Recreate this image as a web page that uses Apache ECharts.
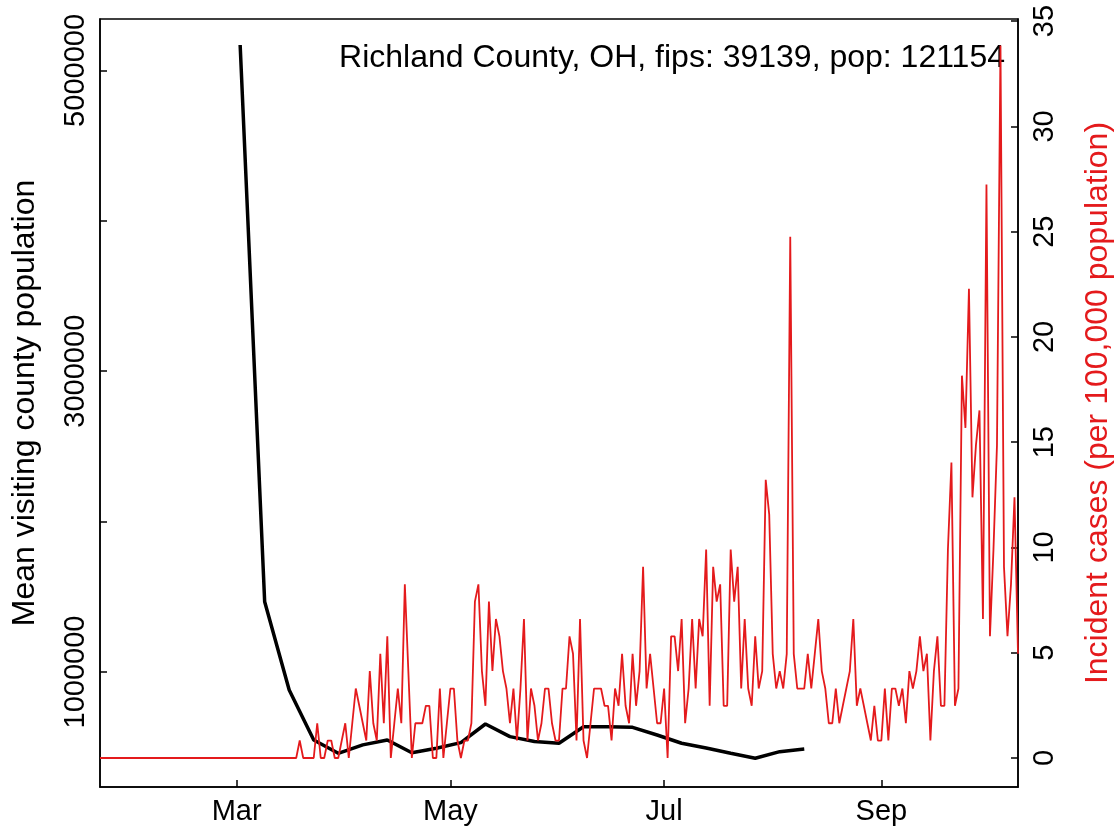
<!DOCTYPE html>
<html><head><meta charset="utf-8">
<script src="https://cdn.jsdelivr.net/npm/echarts@6/dist/echarts.min.js"></script>
<style>html,body{margin:0;padding:0;background:#fff}#c{width:1119px;height:830px}</style>
</head><body><div id="c"></div>
<script>
// ---------------- data ----------------
const annotation = 'Richland County, OH, fips: 39139, pop: 121154';
const leftAxisTitle = 'Mean visiting county population';
const rightAxisTitle = 'Incident cases (per 100,000 population)';

// daily incident cases per 100,000, starting 2020-01-22
const incidenceStart = '2020-01-22';
const incidence = [
  0,0,0,0,0,0,0,0,0,0, 0,0,0,0,0,0,0,0,0,0,
  0,0,0,0,0,0,0,0,0,0, 0,0,0,0,0,0,0,0,0,0,
  0,0,0,0,0,0,0,0,0,0, 0,0,0,0,0,0,0,
  0.83,0,0,0,0,1.65,0,0,0.83,0.83,
  0,0,0.83,1.65,0,1.65,3.30,2.48,1.65,0.83,
  4.13,1.65,0.83,4.95,1.65,5.78,0,1.65,3.30,1.65,
  8.25,4.13,0,1.65,1.65,1.65,2.48,2.48,0,0,
  3.30,0,1.65,3.30,3.30,0.83,0,0.83,0.83,1.65,
  7.43,8.25,4.13,2.48,7.43,4.13,6.60,5.78,4.13,3.30,
  1.65,3.30,0.83,3.30,6.60,0.83,3.30,2.48,0.83,1.65,
  3.30,3.30,1.65,0.83,0.83,3.30,3.30,5.78,4.95,0.83,
  6.60,0.83,0,1.65,3.30,3.30,3.30,2.48,2.48,0.83,
  3.30,2.48,4.95,2.48,1.65,4.95,2.48,4.13,9.08,3.30,
  4.95,3.30,1.65,1.65,3.30,0,5.78,5.78,4.13,6.60,
  1.65,3.30,6.60,3.30,6.60,5.78,
  9.90,2.48,9.08,7.43,8.25,2.48,2.48,9.90,7.43,9.08,
  3.30,6.60,3.30,2.48,5.78,3.30,4.13,13.21,11.56,4.95,
  3.30,4.13,3.30,4.95,24.76,4.95,3.30,3.30,3.30,4.95,
  3.30,4.95,6.60,4.13,3.30,1.65,1.65,3.30,1.65,2.48,
  3.30,4.13,6.60,2.48,3.30,2.48,1.65,0.83,2.48,0.83,
  0.83,3.30,0.83,3.30,3.30,2.48,3.30,1.65,4.13,3.30,
  4.13,5.78,4.13,4.95,0.83,4.13,5.78,2.48,2.48,9.90,
  14.03,2.48,3.30,18.16,15.68,22.29,12.38,14.86,16.51,6.60,
  27.24,5.78,9.90,14.86,33.84,9.08,5.78,8.25,12.38,4.95
];

// weekly mean visiting county population
const visitDates = [
  '2020-03-02','2020-03-09','2020-03-16','2020-03-23','2020-03-30','2020-04-06',
  '2020-04-13','2020-04-20','2020-04-27','2020-05-04','2020-05-11','2020-05-18',
  '2020-05-25','2020-06-01','2020-06-08','2020-06-15','2020-06-22','2020-06-29',
  '2020-07-06','2020-07-13','2020-07-20','2020-07-27','2020-08-03','2020-08-10'
];
const visitPop = [
  5169000,1467000,880000,548000,459000,515000,
  548000,463000,493000,530000,654000,570000,
  537000,526000,636000,635000,632000,581000,
  526000,494000,459000,426000,470000,488000
];

const monthTickDates = ['2020-03-01','2020-05-01','2020-07-01','2020-09-01'];
const monthTickLabels = ['Mar','May','Jul','Sep'];
const leftTickValues = [1000000,2000000,3000000,4000000,5000000];
const leftLabelValues = [1000000,3000000,5000000];
const rightTickValues = [0,5,10,15,20,25,30,35];

// ---------------- helpers ----------------
function dayNum(s){const p=s.split('-').map(Number);return Date.UTC(p[0],p[1]-1,p[2])/86400000;}
const origin = dayNum('2020-03-01');
const dx = s => dayNum(s) - origin;
const incStartX = dx(incidenceStart);
const redData = incidence.map((v,i)=>[incStartX+i, v]);
const blackData = visitDates.map((d,i)=>[dx(d), visitPop[i]]);
const monthX = monthTickDates.map(dx);

const RED = '#E41A1C';
const FONT = 'Liberation Sans, Arial, sans-serif';
const axisLine = {show:true,onZero:false,lineStyle:{color:'#000',width:1.5}};

const chart = echarts.init(document.getElementById('c'), null, {renderer:'canvas'});
chart.setOption({
  animation:false,
  backgroundColor:'#fff',
  grid:{left:100,right:101,top:19,bottom:43,outerBoundsMode:'none',containLabel:false,
        show:true,borderColor:'#000',borderWidth:1.5,backgroundColor:'transparent'},
  xAxis:{
    type:'value', min:incStartX, max:dx('2020-10-10'),
    axisLine:axisLine,
    axisTick:{show:true,inside:true,length:7,customValues:monthX,lineStyle:{color:'#000',width:1.5}},
    axisLabel:{customValues:monthX,margin:10,color:'#000',fontSize:29,fontFamily:FONT,
      formatter:v=>{const i=monthX.indexOf(v);return i>=0?monthTickLabels[i]:'';}},
    splitLine:{show:false}
  },
  yAxis:[{
    type:'value', position:'left', min:235000, max:5342000,
    name:leftAxisTitle, nameLocation:'middle', nameGap:59, nameRotate:90,
    nameTextStyle:{color:'#000',fontSize:32,fontFamily:FONT},
    axisLine:axisLine,
    axisTick:{show:true,inside:true,length:7,customValues:leftTickValues,lineStyle:{color:'#000',width:1.5}},
    axisLabel:{customValues:leftLabelValues,rotate:90,margin:10,color:'#000',fontSize:29,fontFamily:FONT,formatter:v=>String(v)},
    splitLine:{show:false}
  },{
    type:'value', position:'right', min:-1.377, max:35.1,
    name:rightAxisTitle, nameLocation:'middle', nameGap:64, nameRotate:90,
    nameTextStyle:{color:RED,fontSize:32,fontFamily:FONT},
    axisLine:axisLine,
    axisTick:{show:true,inside:true,length:7,customValues:rightTickValues,lineStyle:{color:'#000',width:1.5}},
    axisLabel:{customValues:rightTickValues,rotate:90,margin:12,color:'#000',fontSize:29,fontFamily:FONT,formatter:v=>String(v)},
    splitLine:{show:false}
  }],
  graphic:[{type:'text',right:1119-1005,top:42,style:{text:annotation,fill:'#000',font:'32px '+FONT,textAlign:'right'}}],
  series:[{
    type:'line', yAxisIndex:0, data:blackData, showSymbol:false, symbol:'none',
    lineStyle:{color:'#000',width:3.5}, z:2
  },{
    type:'line', yAxisIndex:1, data:redData, showSymbol:false, symbol:'none',
    lineStyle:{color:RED,width:1.8}, z:3
  }]
});
</script></body></html>
